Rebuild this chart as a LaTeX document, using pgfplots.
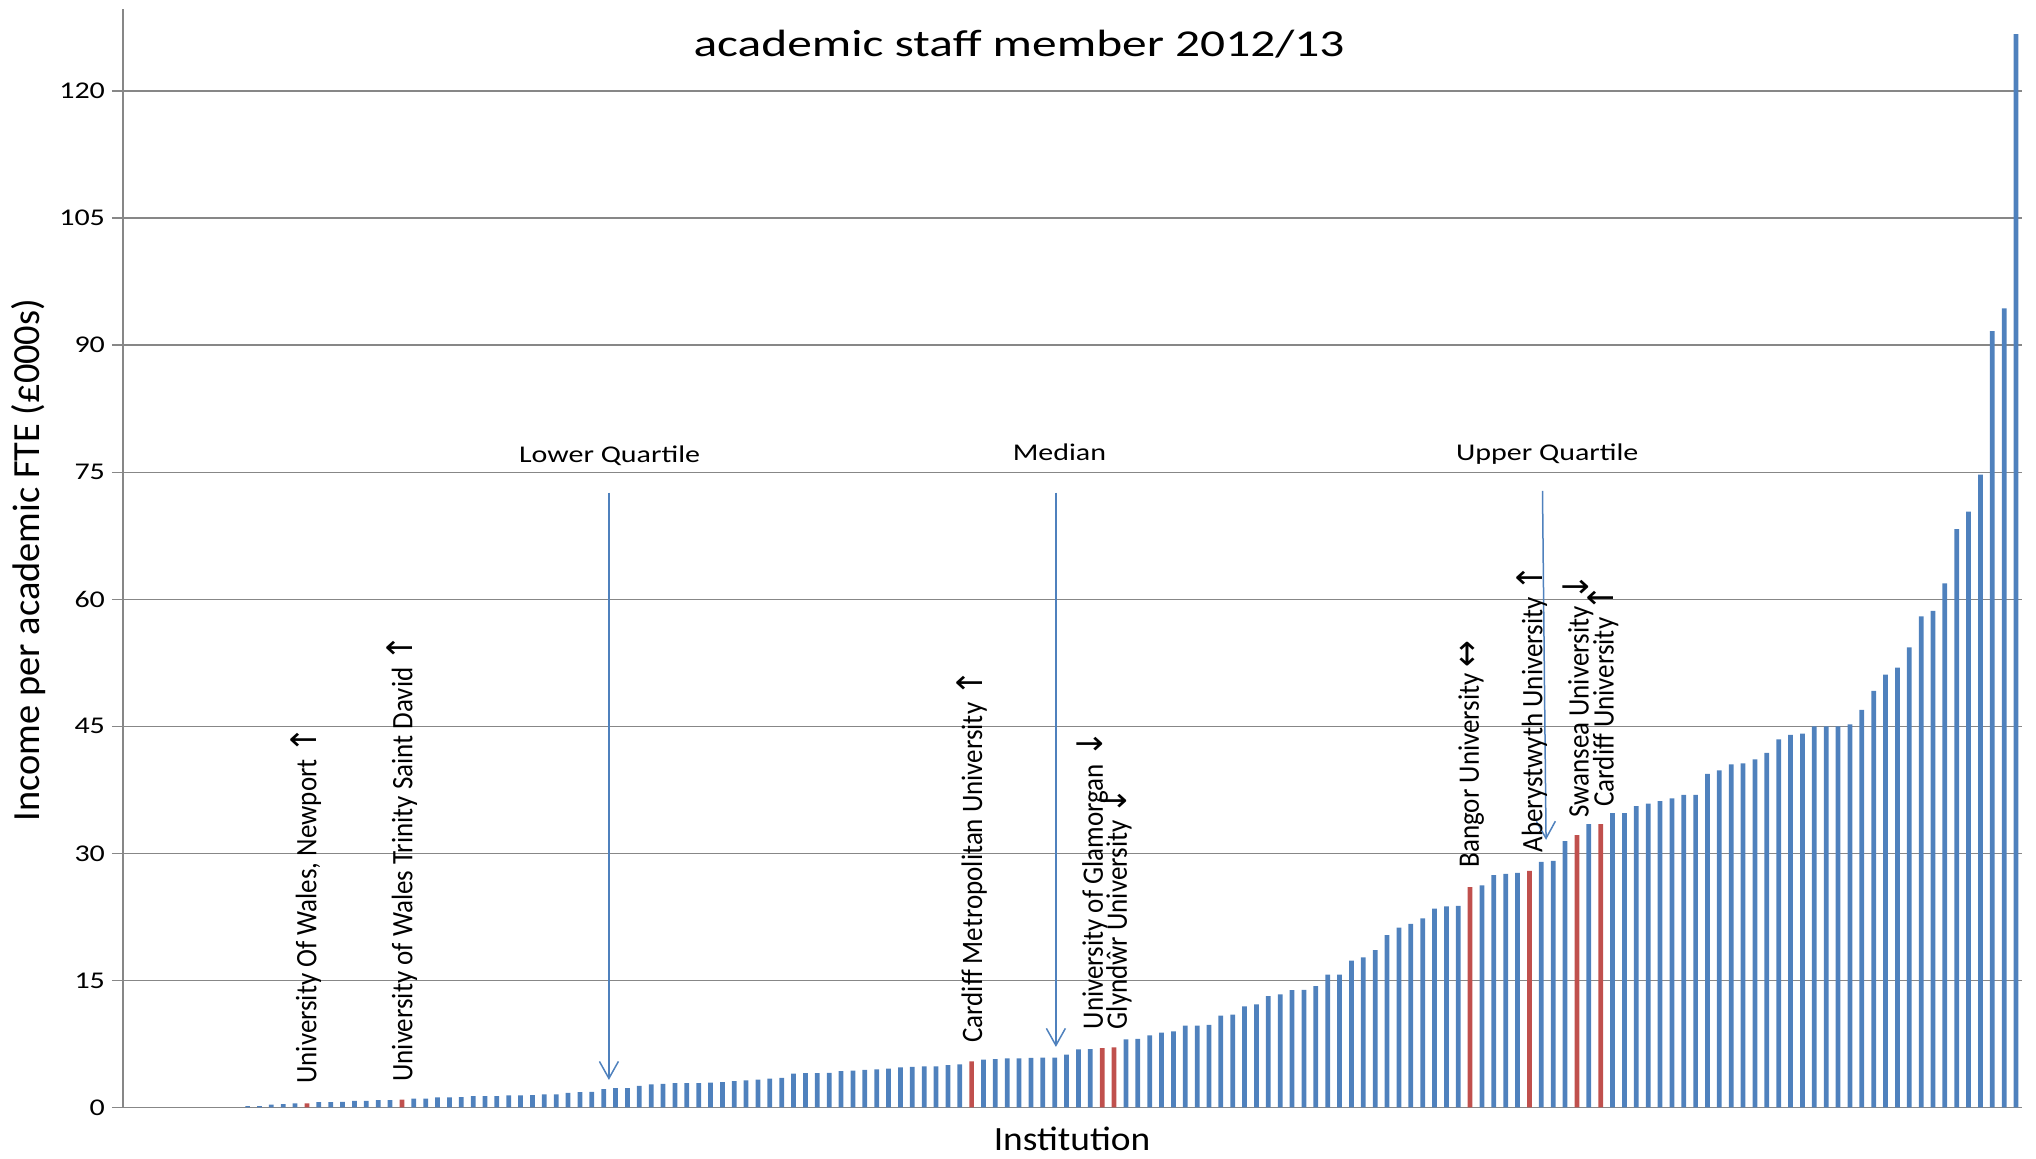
\documentclass[border=0pt]{standalone}
\usepackage{fontspec}
\setmainfont{Carlito}
\newfontfamily\arrowfont{DejaVu Sans}
\usepackage{graphicx}
\usepackage{pgfplots}
\usepackage{pgfplotstable}
\pgfplotsset{compat=1.18}
\usetikzlibrary{arrows.meta}
\definecolor{barblue}{HTML}{4F81BD}
\definecolor{barred}{HTML}{C0504D}
\definecolor{gridgray}{HTML}{878787}
\newcommand{\lab}[1]{\scalebox{1}[1.1]{#1}}
\newcommand{\hlab}[1]{\scalebox{1.25}[1]{#1}}
\newcommand{\arr}[1]{{\arrowfont\fontsize{16}{16}\selectfont #1}}

\pgfplotstableread{
x y
11 0.16
12 0.16
13 0.35
14 0.40
15 0.50
17 0.63
18 0.63
19 0.67
20 0.79
21 0.79
22 0.87
23 0.87
25 1.06
26 1.06
27 1.18
28 1.18
29 1.22
30 1.34
31 1.34
32 1.34
33 1.42
34 1.42
35 1.46
36 1.54
37 1.54
38 1.73
39 1.81
40 1.85
41 2.17
42 2.28
43 2.28
44 2.56
45 2.72
46 2.80
47 2.87
48 2.87
49 2.87
50 2.95
51 3.00
52 3.10
53 3.20
54 3.30
55 3.40
56 3.50
57 4.00
58 4.05
59 4.05
60 4.10
61 4.30
62 4.35
63 4.45
64 4.50
65 4.60
66 4.75
67 4.80
68 4.85
69 4.85
70 5.00
71 5.10
73 5.65
74 5.70
75 5.80
76 5.80
77 5.85
78 5.90
79 5.90
80 6.25
81 6.85
82 6.90
85 8.05
86 8.10
87 8.50
88 8.85
89 9.00
90 9.66
91 9.66
92 9.74
93 10.84
94 10.95
95 11.94
96 12.17
97 13.15
98 13.35
99 13.86
100 13.90
101 14.33
102 15.70
103 15.70
104 17.35
105 17.71
106 18.57
107 20.34
108 21.24
109 21.67
110 22.34
111 23.48
112 23.75
113 23.79
115 26.22
116 27.43
117 27.59
118 27.71
120 29.01
121 29.13
122 31.46
124 33.45
126 34.76
127 34.76
128 35.57
129 35.88
130 36.16
131 36.50
132 36.91
133 36.91
134 39.40
135 39.79
136 40.50
137 40.62
138 41.09
139 41.88
140 43.46
141 44.00
142 44.15
143 45.00
144 45.00
145 45.00
146 45.22
147 46.96
148 49.19
149 51.12
150 51.93
151 54.33
152 57.99
153 58.62
154 61.89
155 68.30
156 70.36
157 74.71
158 91.65
159 94.34
160 126.74
}\bluedata

\pgfplotstableread{
x y
16 0.50
24 0.94
72 5.45
83 7.00
84 7.10
114 26.02
119 27.95
123 32.17
125 33.47
}\reddata

\begin{document}
\begin{tikzpicture}
\begin{axis}[
  at={(61.5pt,25.75pt)}, anchor=south west,
  scale only axis, width=949.5pt, height=549.25pt,
  xmin=0.5, xmax=160.5, ymin=0, ymax=129.7,
  axis x line*=bottom, axis y line*=left,
  axis line style={gridgray, line width=0.8pt},
  xtick=\empty,
  ytick={0,15,...,120},
  ymajorgrids, grid style={gridgray, line width=0.75pt},
  tick style={gridgray, line width=0.75pt},
  major tick length=5.5pt, tick align=outside,
  yticklabel style={font=\fontsize{12}{14}\selectfont, text=black},
  yticklabel={\hlab{\pgfmathprintnumber{\tick}}},
  /pgf/number format/assume math mode=true,
  ybar, bar width=0.4, bar shift=0pt,
  clip=false,
]
\addplot[fill=barblue, draw=none] table[x=x, y=y] {\bluedata};
\addplot[fill=barred, draw=none] table[x=x, y=y] {\reddata};

% quartile annotations
\draw[barblue, line width=0.75pt, -{Straight Barb[length=8.5pt,width=9.5pt,line width=0.75pt]}] (axis cs:41.44,72.6) -- (axis cs:41.44,3.25);
\draw[barblue, line width=0.75pt, -{Straight Barb[length=8.5pt,width=9.5pt,line width=0.75pt]}] (axis cs:79.1,72.6) -- (axis cs:79.1,7.15);
\draw[barblue, line width=0.75pt, -{Straight Barb[length=8.5pt,width=9.5pt,line width=0.75pt]}] (axis cs:120.1,72.8) -- (axis cs:120.4,31.6);
\node[anchor=base, font=\fontsize{12}{14}\selectfont] at (axis cs:41.5,76.2) {\hlab{Lower Quartile}};
\node[anchor=base, font=\fontsize{12}{14}\selectfont] at (axis cs:79.4,76.4) {\hlab{Median}};
\node[anchor=base, font=\fontsize{12}{14}\selectfont] at (axis cs:120.5,76.4) {\hlab{Upper Quartile}};

% institution labels
\tikzset{inst/.style={rotate=90, anchor=west, inner sep=0pt, font=\fontsize{13.5}{15}\selectfont}}
\node[inst] at (axis cs:15.9,2.77) {\lab{University Of Wales, Newport \arr{↑}}};
\node[inst] at (axis cs:24.0,3.0) {\lab{University of Wales Trinity Saint David \arr{↑}}};
\node[inst] at (axis cs:72.0,7.6) {\lab{Cardiff Metropolitan University \arr{↑}}};
\node[inst] at (axis cs:82.2,9.2) {\lab{University of Glamorgan \arr{↓}}};
\node[inst] at (axis cs:84.2,9.2) {\lab{Glyndŵr University \arr{↓}}};
\node[inst] at (axis cs:114.1,28.3) {\lab{Bangor University \arr{↔}}};
\node[inst] at (axis cs:119.2,30.05) {\lab{Aberystwyth University \arr{↑}}};
\node[inst] at (axis cs:123.1,34.15) {\lab{Swansea University \arr{↓}}};
\node[inst] at (axis cs:125.2,35.5) {\lab{Cardiff University \arr{↑}}};
\end{axis}

\node[rotate=90, font=\fontsize{19.2}{21}\selectfont] at (14.5pt,299.5pt) {Income per academic FTE (£000s)};
\node[anchor=base, font=\fontsize{19}{21}\selectfont] at (509.5pt,551pt) {\scalebox{1.3}[1]{academic staff member 2012/13}};
\node[anchor=base, font=\fontsize{17}{20}\selectfont] at (536pt,4.2pt) {\scalebox{1.1}[1]{Institution}};

\pgfresetboundingbox
\useasboundingbox (0,0) rectangle (1018pt,579.5pt);
\end{tikzpicture}
\end{document}
